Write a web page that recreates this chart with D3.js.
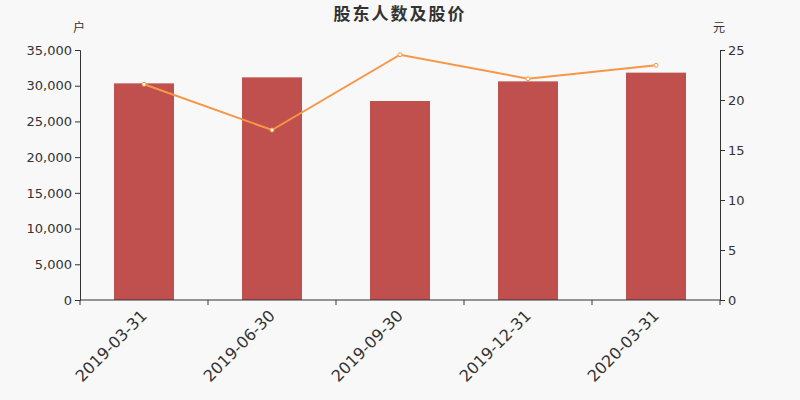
<!DOCTYPE html>
<html><head><meta charset="utf-8">
<script src="https://cdn.jsdelivr.net/npm/d3@7"></script>
<style>
html,body{margin:0;padding:0;background:#f8f8f8;}
svg{display:block;font-family:"DejaVu Sans","Noto Sans CJK SC",sans-serif;}
</style></head><body>
<svg id="c" width="800" height="400"></svg>
<script>
const categories = ["2019-03-31","2019-06-30","2019-09-30","2019-12-31","2020-03-31"];
const holders = [30330, 31170, 27860, 30610, 31830];
const prices = [21.57, 17.0, 24.53, 22.13, 23.47];
const leftTicks = [0,5000,10000,15000,20000,25000,30000,35000];
const rightTicks = [0,5,10,15,20,25];

const svg = d3.select("#c");
svg.append("rect").attr("width",800).attr("height",400).attr("fill","#f8f8f8");
const m = {l:80, r:720, t:50, b:300};
const x = d3.scaleBand().domain(categories).range([m.l,m.r]);
const yL = d3.scaleLinear().domain([0,35000]).range([m.b,m.t]);
const yR = d3.scaleLinear().domain([0,25]).range([m.b,m.t]);
const txt = "#333";

svg.append("text").attr("x",400).attr("y",20).attr("text-anchor","middle")
  .attr("font-size",17).attr("font-weight","bold").attr("fill","#333").attr("letter-spacing",2)
  .attr("font-family","Noto Sans CJK SC").text("股东人数及股价");
svg.append("text").attr("x",79).attr("y",32).attr("text-anchor","middle")
  .attr("font-size",12).attr("fill",txt).attr("font-family","Noto Sans CJK SC").text("户");
svg.append("text").attr("x",719).attr("y",32).attr("text-anchor","middle")
  .attr("font-size",12).attr("fill",txt).attr("font-family","Noto Sans CJK SC").text("元");

// bars
const bw = 60;
svg.selectAll("rect.bar").data(holders).enter().append("rect").attr("class","bar")
  .attr("x",(d,i)=>x(categories[i])+x.bandwidth()/2-bw/2)
  .attr("y",d=>yL(d)).attr("width",bw).attr("height",d=>m.b-yL(d))
  .attr("fill","#c0504d");

// axes
const ax = svg.append("g").attr("transform",`translate(${m.l},0)`)
  .call(d3.axisLeft(yL).tickValues(leftTicks).tickSize(5).tickFormat(d3.format(",")));
const ar = svg.append("g").attr("transform",`translate(${m.r},0)`)
  .call(d3.axisRight(yR).tickValues(rightTicks).tickSize(5));
[ax,ar].forEach(g=>{
  g.select(".domain").attr("stroke","#333");
  g.selectAll(".tick line").attr("stroke","#333");
  g.selectAll("text").attr("fill",txt).attr("font-size",13).attr("font-family","DejaVu Sans");
});
ax.selectAll("text").attr("x",-8);
ar.selectAll("text").attr("x",8);

// x axis
const gx = svg.append("g").attr("transform",`translate(0,${m.b})`);
gx.append("line").attr("x1",m.l).attr("x2",m.r).attr("stroke","#333");
const bounds = categories.map(c=>x(c)).concat([m.r]);
gx.selectAll("line.t").data(bounds).enter().append("line").attr("class","t")
  .attr("x1",d=>d).attr("x2",d=>d).attr("y1",0).attr("y2",5).attr("stroke","#333");
gx.selectAll("text").data(categories).enter().append("text")
  .attr("transform",d=>`translate(${x(d)+x.bandwidth()/2-4},9) rotate(-45)`)
  .attr("text-anchor","end").attr("dy","0.7em").attr("font-size",16).attr("fill",txt)
  .attr("font-family","DejaVu Sans").text(d=>d);

// line
const line = d3.line().x((d,i)=>x(categories[i])+x.bandwidth()/2).y(d=>yR(d));
svg.append("path").datum(prices).attr("d",line).attr("fill","none")
  .attr("stroke","#f79646").attr("stroke-width",2);
svg.selectAll("circle.p").data(prices).enter().append("circle").attr("class","p")
  .attr("cx",(d,i)=>x(categories[i])+x.bandwidth()/2).attr("cy",d=>yR(d)).attr("r",2)
  .attr("fill","#fff").attr("stroke","#f79646").attr("stroke-width",1);
</script></body></html>
